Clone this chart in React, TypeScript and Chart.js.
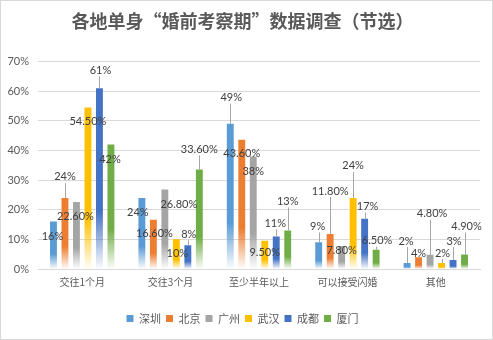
import React, { useEffect, useRef } from "react";
import { Chart, registerables } from "chart.js";

Chart.register(...registerables);

const TITLE = "各地单身“婚前考察期”数据调查（节选）";
const CATEGORIES = ["交往1个月", "交往3个月", "至少半年以上", "可以接受闪婚", "其他"];
const SERIES_NAMES = ["深圳", "北京", "广州", "武汉", "成都", "厦门"];
const SHENZHEN = [16, 24, 49, 9, 2];
const BEIJING = [24, 16.6, 43.6, 11.8, 4];
const GUANGZHOU = [22.6, 26.8, 38, 7.8, 4.8];
const WUHAN = [54.5, 10, 9.5, 24, 2];
const CHENGDU = [61, 8, 11, 17, 3];
const XIAMEN = [42, 33.6, 13, 6.5, 4.9];
const Y_TICKS = [0, 10, 20, 30, 40, 50, 60, 70];

const SERIES_VALUES = [SHENZHEN, BEIJING, GUANGZHOU, WUHAN, CHENGDU, XIAMEN];
const COLORS = ["#5B9BD5", "#ED7D31", "#A5A5A5", "#FFC000", "#4472C4", "#70AD47"];

// style: label placement offsets (dx, dy) from each bar's top centre, in px
const LABEL_OFFSETS = [
  [[-1, 15], [-4, 15], [1, -26], [-1, -16], [-1, -22]],
  [[0, -21], [1, 14], [0, 14], [0, -43], [0, -4]],
  [[-1, 14], [14, 15], [0, 15], [0, 5], [2, -41]],
  [[0, 14], [1, 14], [0, 12], [0, -32], [1, -10]],
  [[1, -18], [1, -11], [-1, -13], [3, -12], [1, -19]],
  [[-1, 15], [0, -20], [0, -29], [1, -9], [2, -28]],
];

const NUM_FONT = "Lato, 'Noto Sans', sans-serif";
const CJK_FONT = "'Noto Sans CJK SC', 'Noto Sans', sans-serif";

function fmt(v: number): string {
  return Number.isInteger(v) ? `${v}%` : `${v.toFixed(2)}%`;
}

function rgba(hex: string, a: number): string {
  const n = parseInt(hex.slice(1), 16);
  return `rgba(${(n >> 16) & 255},${(n >> 8) & 255},${n & 255},${a})`;
}

const bgPlugin = {
  id: "bgBorder",
  beforeDraw(chart: any) {
    const { ctx, width, height } = chart;
    ctx.save();
    ctx.fillStyle = "#ffffff";
    ctx.fillRect(0, 0, width, height);
    ctx.strokeStyle = "#d9d9d9";
    ctx.lineWidth = 1;
    ctx.strokeRect(0.5, 0.5, width - 1, height - 1);
    ctx.restore();
  },
};

const labelPlugin = {
  id: "barLabels",
  afterDatasetsDraw(chart: any) {
    const ctx = chart.ctx;
    ctx.save();
    ctx.font = `11px ${NUM_FONT}`;
    ctx.textAlign = "center";
    ctx.textBaseline = "middle";
    chart.data.datasets.forEach((ds: any, i: number) => {
      const meta = chart.getDatasetMeta(i);
      meta.data.forEach((bar: any, j: number) => {
        const [dx, dy] = LABEL_OFFSETS[i][j];
        const cx = bar.x + dx;
        const cy = bar.y + dy;
        if (cy + 6 < bar.y - 2) {
          ctx.strokeStyle = "#a6a6a6";
          ctx.lineWidth = 1;
          ctx.beginPath();
          ctx.moveTo(Math.round(bar.x) + 0.5, bar.y);
          ctx.lineTo(Math.round(bar.x) + 0.5, cy + 6);
          ctx.stroke();
        }
        ctx.fillStyle = "#404040";
        ctx.fillText(fmt(ds.data[j]), cx, cy);
      });
    });
    ctx.restore();
  },
};

function gradientFor(color: string) {
  return (c: any) => {
    if (c.type !== "data") return color;
    const chart = c.chart;
    const ys = chart.scales && chart.scales.y;
    if (!chart.chartArea || !ys) return color;
    const v = c.raw as number;
    const top = ys.getPixelForValue(v);
    const base = ys.getPixelForValue(0);
    if (!isFinite(top) || !isFinite(base) || base - top < 1) return color;
    const g = chart.ctx.createLinearGradient(0, top, 0, base);
    g.addColorStop(0, color);
    g.addColorStop(0.68, color);
    g.addColorStop(1, rgba(color, 0.02));
    return g;
  };
}

export default function App() {
  const ref = useRef<HTMLCanvasElement | null>(null);

  useEffect(() => {
    if (!ref.current) return;
    const chart = new Chart(ref.current, {
      type: "bar",
      data: {
        labels: CATEGORIES,
        datasets: SERIES_NAMES.map((name, i) => ({
          label: name,
          data: SERIES_VALUES[i],
          backgroundColor: gradientFor(COLORS[i]),
          borderWidth: 0,
          categoryPercentage: 0.78,
          barPercentage: 0.6,
        })),
      },
      options: {
        responsive: false,
        animation: false,
        devicePixelRatio: 1,
        layout: { padding: { top: 6, left: 5, right: 13, bottom: 6 } },
        plugins: {
          title: {
            display: true,
            text: TITLE,
            color: "#595959",
            font: { size: 18, weight: "bold", family: CJK_FONT },
            padding: { top: 4, bottom: 30 },
          },
          legend: {
            position: "bottom",
            labels: {
              boxWidth: 7,
              boxHeight: 7,
              padding: 5,
              color: "#595959",
              font: { size: 11, family: CJK_FONT },
              generateLabels: (ch: any) =>
                Chart.defaults.plugins.legend.labels.generateLabels(ch).map((l: any) => ({
                  ...l,
                  fillStyle: COLORS[l.datasetIndex],
                  strokeStyle: COLORS[l.datasetIndex],
                  lineWidth: 0,
                })),
            },
          },
          tooltip: { enabled: false },
        },
        scales: {
          x: {
            grid: { display: false, drawTicks: false },
            border: { color: "#d9d9d9" },
            ticks: { color: "#595959", font: { size: 10, family: CJK_FONT }, padding: 7 },
            afterFit: (s: any) => {
              s.height += 13;
            },
          },
          y: {
            min: 0,
            max: 70,
            afterFit: (s: any) => {
              s.width = 33;
            },
            afterBuildTicks: (s: any) => {
              s.ticks = Y_TICKS.map((v) => ({ value: v }));
            },
            grid: { color: "#d9d9d9", drawTicks: false },
            border: { display: false },
            ticks: {
              color: "#595959",
              font: { size: 11, family: NUM_FONT },
              padding: 9,
              callback: (v: any) => `${v}%`,
            },
          },
        },
      },
      plugins: [bgPlugin, labelPlugin],
    });
    return () => chart.destroy();
  }, []);

  return (
    <div style={{ position: "fixed", left: 0, top: 0, width: 493, height: 340 }}>
      <canvas ref={ref} width={493} height={340} style={{ display: "block" }} />
    </div>
  );
}
